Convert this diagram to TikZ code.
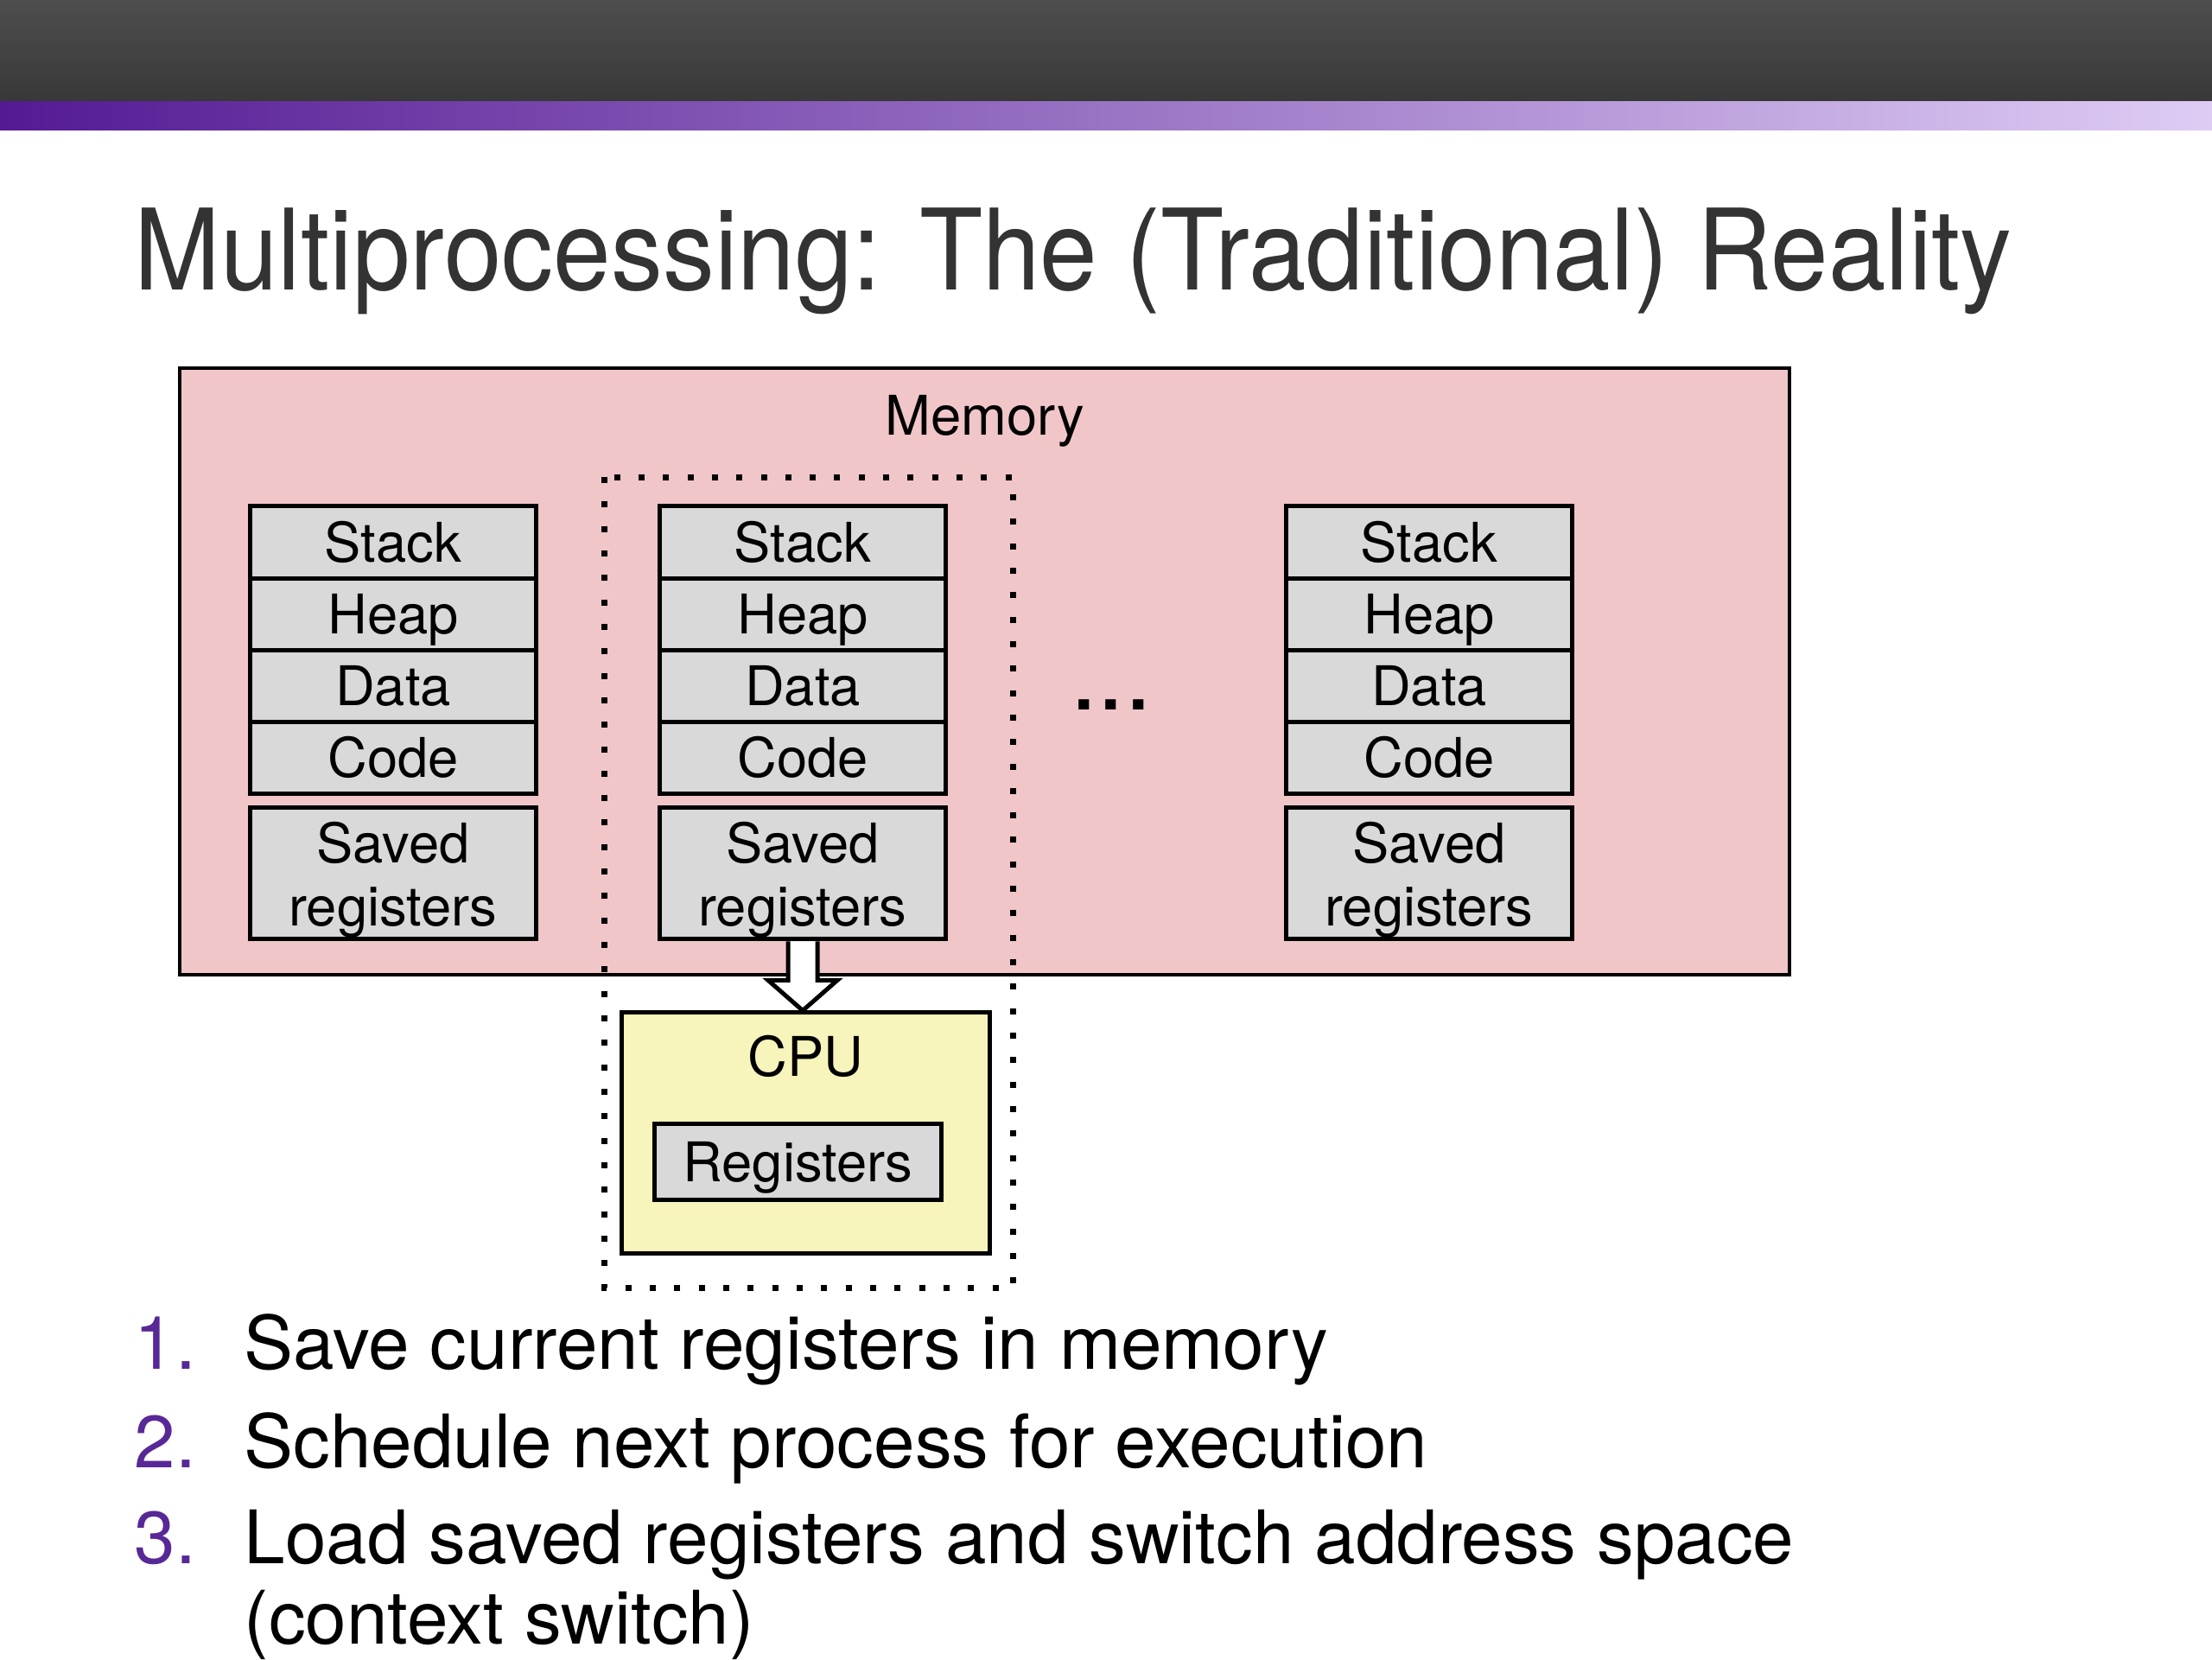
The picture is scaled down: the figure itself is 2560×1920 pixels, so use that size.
\documentclass[tikz,border=0pt]{standalone}
\usepackage{fontspec}
\setmainfont{TeX Gyre Heros}
\newfontfamily\titlefont[FakeStretch=0.92]{TeX Gyre Heros}
\usetikzlibrary{positioning,calc}
\definecolor{hong}{RGB}{240,198,200}
\definecolor{vang}{RGB}{247,244,188}
\definecolor{xam}{RGB}{217,217,217}
\definecolor{tim}{RGB}{88,40,150}
\definecolor{chu}{RGB}{51,51,51}
\definecolor{topa}{RGB}{78,78,78}
\definecolor{topb}{RGB}{56,56,56}
\definecolor{tima}{RGB}{84,26,148}
\definecolor{timb}{RGB}{185,148,230}
\definecolor{timc}{RGB}{222,204,244}
\begin{document}
\begin{tikzpicture}[x=0.01cm,y=-0.01cm,line join=miter,
		oseg/.style={draw,line width=0.05cm,fill=xam,minimum width=3.3cm,minimum height=0.83cm,
			inner sep=0pt,outer sep=0pt,text height=13pt,text depth=0pt,font=\fontsize{18}{20.7}\selectfont},
		oluu/.style={oseg,minimum height=1.52cm,align=center,text height=35pt},
		chu18/.style={inner sep=0pt,font=\fontsize{18}{20.7}\selectfont},
		so/.style={anchor=base west,inner sep=0pt,text=tim,font=\fontsize{24.3}{29}\selectfont},
		dong/.style={anchor=base west,inner sep=0pt,font=\fontsize{24.3}{29}\selectfont}]
	\useasboundingbox (0,0) rectangle (2560,1920);
	
	% thanh tren
	\shade[top color=topa,bottom color=topb] (0,0) rectangle (2560,117);
	\shade[left color=tima,middle color=timb,right color=timc] (0,117) rectangle (2560,150);
	
	\node[anchor=base west,inner sep=0pt,text=chu,font=\titlefont\fontsize{37}{44}\selectfont]
		(tieude) at (155,335) {Multiprocessing: The (Traditional) Reality};
	
	% bo nho
	\node[draw,line width=0.04cm,fill=hong,minimum width=18.61cm,minimum height=7.02cm] (bonho) at (1139.5,777) {};
	\node[chu18,anchor=base] (nhanbonho) at (1140,503) {Memory};
	
	\draw[line width=0.07cm,dash pattern=on 0.07cm off 0.213cm] (699,552) rectangle (1172,1490);
	
	\foreach \x/\n in {455/a,929/b,1654/c}{
		\node[oseg] (stack\n) at (\x,627.5) {Stack};
		\node[oseg,below=0pt of stack\n] (heap\n) {Heap};
		\node[oseg,below=0pt of heap\n] (data\n) {Data};
		\node[oseg,below=0pt of data\n] (code\n) {Code};
		\node[oluu,below=0.16cm of code\n] (saved\n) {Saved\\registers};
	}
	
	\node[chu18] (chamchan) at (1286,816) {\fontsize{23}{23}\bfseries .\hspace{0.09cm}.\hspace{0.09cm}.};
	
	% cpu
	\node[draw,line width=0.05cm,fill=vang,minimum width=4.25cm,minimum height=2.78cm] (cpu) at (932.5,1311) {};
	\node[chu18,anchor=base] (nhancpu) at ($(cpu.north)+(0,76)$) {CPU};
	\node[oseg,minimum width=3.31cm,minimum height=0.88cm] (thanhghi) at (923.5,1344.5) {Registers};
	
	\coordinate (mui) at (savedb.south |- cpu.north);
	\draw[line width=0.05cm,fill=white] ($(savedb.south)+(-17,3)$) -- ($(mui)+(-17,-35)$) --
		($(mui)+(-40,-35)$) -- (mui) -- ($(mui)+(40,-35)$) -- ($(mui)+(17,-35)$) --
		($(savedb.south)+(17,3)$);
	
	% danh sach
	\foreach \i/\y/\t in {1/1584/Save current registers in memory,
		2/1698/Schedule next process for execution,
		3/1809/Load saved registers and switch address space}{
		\node[so] (so\i) at (155,\y) {\i.};
		\node[dong] (dong\i) at (282,\y) {\t};
	}
	\node[dong] (dong4) at (282,1902) {(context switch)};
\end{tikzpicture}
\end{document}
